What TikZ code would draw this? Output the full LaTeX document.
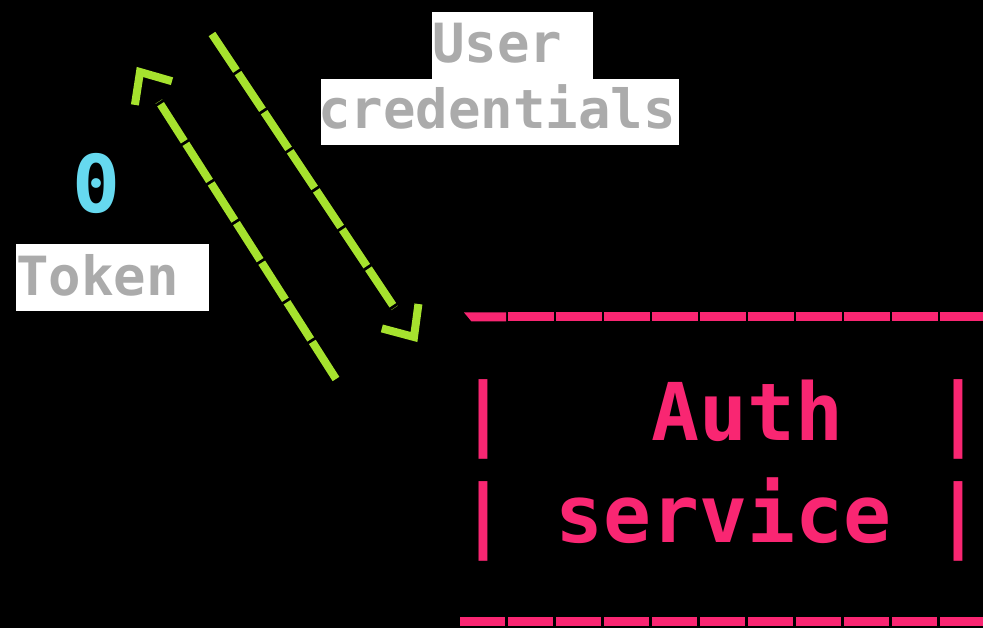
\documentclass[tikz,border=0pt]{standalone}
\usepackage{fontspec}
\newfontfamily\codefont{DejaVu Sans Mono}
\usetikzlibrary{calc}
\definecolor{mkgreen}{HTML}{A6E22E}
\definecolor{mkpink}{HTML}{F92672}
\definecolor{mkcyan}{HTML}{66D9EF}
\definecolor{labelgray}{HTML}{ABABAB}
\tikzset{
  lbltext/.style={inner sep=0pt, anchor=base west, text=labelgray,
    font=\codefont\bfseries\fontsize{54}{54}\selectfont},
  authtext/.style={inner sep=0pt, text=mkpink,
    font=\codefont\bfseries\fontsize{79.7}{80}\selectfont},
  zerotext/.style={inner sep=0pt, anchor=base, text=mkcyan,
    font=\codefont\bfseries\fontsize{79.7}{80}\selectfont},
  flowline/.style={draw=mkgreen, line width=8pt, line cap=butt,
    dash pattern=on 44pt off 3pt},
  chev/.style={draw=mkgreen, line width=8pt, line cap=butt, line join=miter},
  uline/.style={draw=mkpink, line width=9pt, line cap=butt,
    dash pattern=on 45.3pt off 2.7pt},
}
\begin{document}
\begin{tikzpicture}[x=1pt,y=-1pt]
\fill[black] (0,0) rectangle (983,628);
\useasboundingbox (0,0) rectangle (983,628);
\clip (0,0) rectangle (983,628);

% label boxes
\fill[white] (432,12) rectangle (593,79);
\fill[white] (321,79) rectangle (679,145);
\fill[white] (16,244) rectangle (209,311);
\node[lbltext] (user) at (432,63) {User};
\node[lbltext] (cred) at (318,129) {credentials};
\node[lbltext] (token) at (16,296) {Token};
\node[zerotext] (zero) at (96.5,213) {0};

% arrows
\coordinate (credtail) at (212,34);
\coordinate (credtip) at (414,337);
\coordinate (toktail) at (336,379);
\coordinate (toktip) at (140,72);
\coordinate (credback) at ($(credtip)!25pt!(credtail)$);
\coordinate (tokback) at ($(toktip)!25pt!(toktail)$);
\draw[flowline] (credtail) -- ($(credtip)!35pt!(credtail)$);
\draw[chev] ($(credback)!22pt!90:(credtip)$) -- (credtip) -- ($(credback)!22pt!-90:(credtip)$);
\draw[flowline] (toktail) -- ($(toktip)!35pt!(toktail)$);
\draw[chev] ($(tokback)!22pt!90:(toktip)$) -- (toktip) -- ($(tokback)!22pt!-90:(toktip)$);

% auth service
\fill[mkpink] (464,312.5) -- (506,312.5) -- (506,321.5) -- (471.5,321.5) -- cycle;
\draw[uline] (508.2,317) -- (1000,317);
\draw[uline] (460,621.5) -- (1000,621.5);
\node[authtext, anchor=base] (barAL) at (483,440) {|};
\node[authtext, anchor=base] (barAR) at (958.5,440) {|};
\node[authtext, anchor=base west] (auth) at (651,440) {Auth};
\node[authtext, anchor=base] (barSL) at (483,542) {|};
\node[authtext, anchor=base] (barSR) at (958.5,542) {|};
\node[authtext, anchor=base west] (service) at (555,542) {service};
\end{tikzpicture}
\end{document}
